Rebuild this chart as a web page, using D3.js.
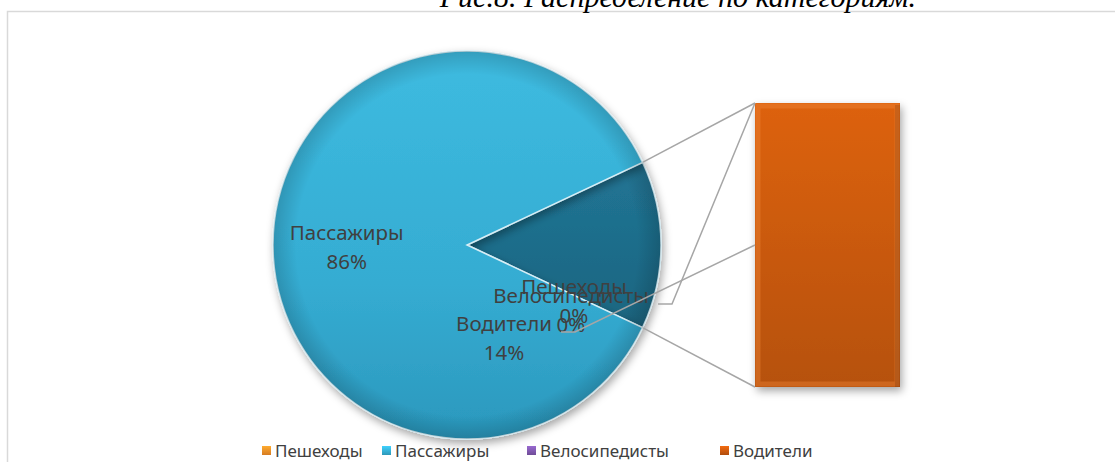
<!DOCTYPE html>
<html>
<head>
<meta charset="utf-8">
<script src="https://cdn.jsdelivr.net/npm/d3@7"></script>
<style>
    body { margin: 0; background: #fff; }
    svg { display: block; }
</style>
</head>
<body>
<svg id="chart" width="1115" height="462"></svg>
<script>
// ========================
// Data
// ========================
const categories = ["Пешеходы", "Пассажиры", "Велосипедисты", "Водители"];
const shares = [0, 86, 0, 14];            // percent
const barOrder = ["Водители", "Пешеходы", "Велосипедисты"]; // stacked bottom -> top in the bar
const legendColors = ["#ee8a26", "#33a9cd", "#7b55a8", "#c4560e"];
const title = "Рис.8. Распределение по категориям.";

// ========================
// Setup
// ========================
const svg = d3.select("#chart");
const defs = svg.append("defs");

const cx = 467, cy = 245, radius = 194;
const barX = 755, barW = 145, barTop = 103, barBottom = 387;
const labelFont = "'Noto Sans', 'DejaVu Sans', sans-serif";
const textColor = "#404040";

// gradients
function linGrad(id, stops, x2 = 0, y2 = 1) {
    const g = defs.append("linearGradient").attr("id", id)
        .attr("x1", 0).attr("y1", 0).attr("x2", x2).attr("y2", y2);
    stops.forEach(s => g.append("stop").attr("offset", s[0]).attr("stop-color", s[1]));
}
linGrad("gPass", [[0, "#3dbbe0"], [0.6, "#35acd2"], [1, "#2b98bd"]]);
linGrad("gOther", [[0, "#217595"], [1, "#1b6580"]]);
linGrad("gBar", [[0, "#dd620b"], [1, "#b6510d"]]);
linGrad("gBarSide", [[0, "#000"], [1, "#000"]], 1, 0);
legendColors.forEach((c, i) => {
    linGrad("gLeg" + i, [[0, d3.color(c).brighter(0.6)], [1, d3.color(c).darker(0.3)]]);
});

// soft dark rim on the pie (gradient in the pie group's own coordinates)
const rim = defs.append("radialGradient").attr("id", "gRim")
    .attr("gradientUnits", "userSpaceOnUse")
    .attr("cx", 0).attr("cy", 0).attr("r", radius);
rim.append("stop").attr("offset", 0.88).attr("stop-color", "#000").attr("stop-opacity", 0);
rim.append("stop").attr("offset", 1).attr("stop-color", "#000").attr("stop-opacity", 0.16);

const shadow = defs.append("filter").attr("id", "shadow")
    .attr("x", "-20%").attr("y", "-20%").attr("width", "140%").attr("height", "140%");
shadow.append("feDropShadow").attr("dx", 2).attr("dy", 4)
    .attr("stdDeviation", 4).attr("flood-color", "#000").attr("flood-opacity", 0.35);

// ========================
// Frame + title
// ========================
svg.append("rect")
    .attr("x", 7.5).attr("y", 11.5)
    .attr("width", 1300).attr("height", 600)
    .attr("fill", "#fff")
    .attr("stroke", "#d9d9d9").attr("stroke-width", 1.5);

svg.append("text")
    .attr("x", 916).attr("y", 7)
    .attr("text-anchor", "end")
    .style("font-family", "'Liberation Serif', 'Times New Roman', serif")
    .style("font-style", "italic")
    .style("font-size", "30px")
    .attr("fill", "#000")
    .text(title);

// ========================
// Pie
// ========================
const value = c => shares[categories.indexOf(c)];
const otherTotal = d3.sum(barOrder, value);
const total = d3.sum(shares);
const pieData = [{ label: "other", v: otherTotal }, { label: "Пассажиры", v: value("Пассажиры") }];

const otherAngle = 2 * Math.PI * otherTotal / total;
const pie = d3.pie().sort(null).value(d => d.v)
    .startAngle(Math.PI / 2 - otherAngle / 2)
    .endAngle(Math.PI / 2 - otherAngle / 2 + 2 * Math.PI);
const arcs = pie(pieData);
const arc = d3.arc().innerRadius(0).outerRadius(radius);

const pieG = svg.append("g").attr("transform", `translate(${cx},${cy})`);
pieG.selectAll("path.slice")
    .data(arcs)
    .join("path")
    .attr("class", "slice")
    .attr("d", arc)
    .attr("fill", d => d.data.label === "other" ? "url(#gOther)" : "url(#gPass)")
    .attr("stroke", "#d6eef6").attr("stroke-width", 1.5)
    .attr("filter", "url(#shadow)");

pieG.selectAll("path.rim")
    .data(arcs)
    .join("path")
    .attr("class", "rim")
    .attr("d", arc)
    .attr("fill", "url(#gRim)");

// ========================
// Bar (breakdown of the small slice)
// ========================
const y = d3.scaleLinear().domain([0, otherTotal]).range([barBottom, barTop]);
const stack = [];
let acc = 0;
barOrder.forEach(c => {
    stack.push({ label: c, y0: acc, y1: acc + value(c) });
    acc += value(c);
});
const visible = stack.filter(d => d.y1 > d.y0);

const barG = svg.append("g");
barG.selectAll("rect.seg")
    .data(visible)
    .join("rect")
    .attr("class", "seg")
    .attr("x", barX).attr("width", barW)
    .attr("y", d => y(d.y1))
    .attr("height", d => y(d.y0) - y(d.y1))
    .attr("fill", "url(#gBar)")
    .attr("filter", "url(#shadow)");
// bevel: light top + left strip, darker right strip
barG.selectAll("rect.bevel")
    .data(visible)
    .join("rect")
    .attr("class", "bevel")
    .attr("x", barX + 3).attr("width", barW - 6)
    .attr("y", d => y(d.y1) + 3)
    .attr("height", d => y(d.y0) - y(d.y1) - 6)
    .attr("fill", "none")
    .attr("stroke", "#f0873a").attr("stroke-opacity", 0.4).attr("stroke-width", 5);
barG.selectAll("rect.edge")
    .data(visible)
    .join("rect")
    .attr("class", "edge")
    .attr("x", barX + barW - 5).attr("width", 5)
    .attr("y", d => y(d.y1) + 2)
    .attr("height", d => y(d.y0) - y(d.y1) - 2)
    .attr("fill", "#000").attr("fill-opacity", 0.12);

// connector lines between pie slice and bar
const otherArc = arcs[0];
const pt = a => [cx + radius * Math.sin(a), cy - radius * Math.cos(a)];
const [p1, p2] = [pt(otherArc.startAngle), pt(otherArc.endAngle)];
svg.append("g").selectAll("line")
    .data([[p1, [barX, y(otherTotal)]], [p2, [barX, y(0)]]])
    .join("line")
    .attr("x1", d => d[0][0]).attr("y1", d => d[0][1])
    .attr("x2", d => d[1][0]).attr("y2", d => d[1][1])
    .attr("stroke", "#a6a6a6").attr("stroke-width", 1.5);

// ========================
// Data labels
// ========================
const fmt = c => Math.round(value(c) / total * 100) + "%";
const lineH = 29;
const passC = d3.arc().innerRadius(0).outerRadius(radius * 1.24).centroid(arcs[1]);

// label blocks (centre of the two-line block), placed as in the original layout
const labelSpots = {
    "Пассажиры": [cx + passC[0], cy + passC[1] + 3],
    "Пешеходы": [574, 302],
    "Велосипедисты": [571, 311],
    "Водители": [504, 339]
};

const labelG = svg.append("g")
    .style("font-family", labelFont)
    .style("font-size", "20.5px")
    .attr("fill", textColor)
    .attr("text-anchor", "middle");

["Пешеходы", "Велосипедисты", "Водители", "Пассажиры"].forEach(c => {
    const [lx, ly] = labelSpots[c];
    const t = labelG.append("text").attr("x", lx).attr("y", ly - lineH / 2 + 6);
    t.append("tspan").attr("x", lx).text(c);
    t.append("tspan").attr("x", lx).attr("dy", lineH).text(fmt(c));
});

// leader lines from bar segments to their labels
const leaders = [
    { label: "Велосипедисты", right: 650 },
    { label: "Водители", right: 553 }
];
leaders.forEach(l => {
    const s = stack.find(d => d.label === l.label);
    const [lx, ly] = labelSpots[l.label];
    const start = [barX, y((s.y0 + s.y1) / 2)];
    const ex = l.right + 8, ey = ly - 7;
    svg.append("polyline")
        .attr("points", [start, [ex + 14, ey], [ex, ey]].map(p => p.join(",")).join(" "))
        .attr("fill", "none")
        .attr("stroke", "#a6a6a6").attr("stroke-width", 1.5);
});

// ========================
// Legend
// ========================
const legendX = [262, 382, 527, 720];
const legend = svg.append("g")
    .style("font-family", labelFont)
    .style("font-size", "17px")
    .attr("fill", textColor);
categories.forEach((c, i) => {
    legend.append("rect")
        .attr("x", legendX[i]).attr("y", 446)
        .attr("width", 9).attr("height", 9)
        .attr("fill", `url(#gLeg${i})`);
    legend.append("text")
        .attr("x", legendX[i] + 13).attr("y", 457)
        .text(c);
});
</script>
</body>
</html>
